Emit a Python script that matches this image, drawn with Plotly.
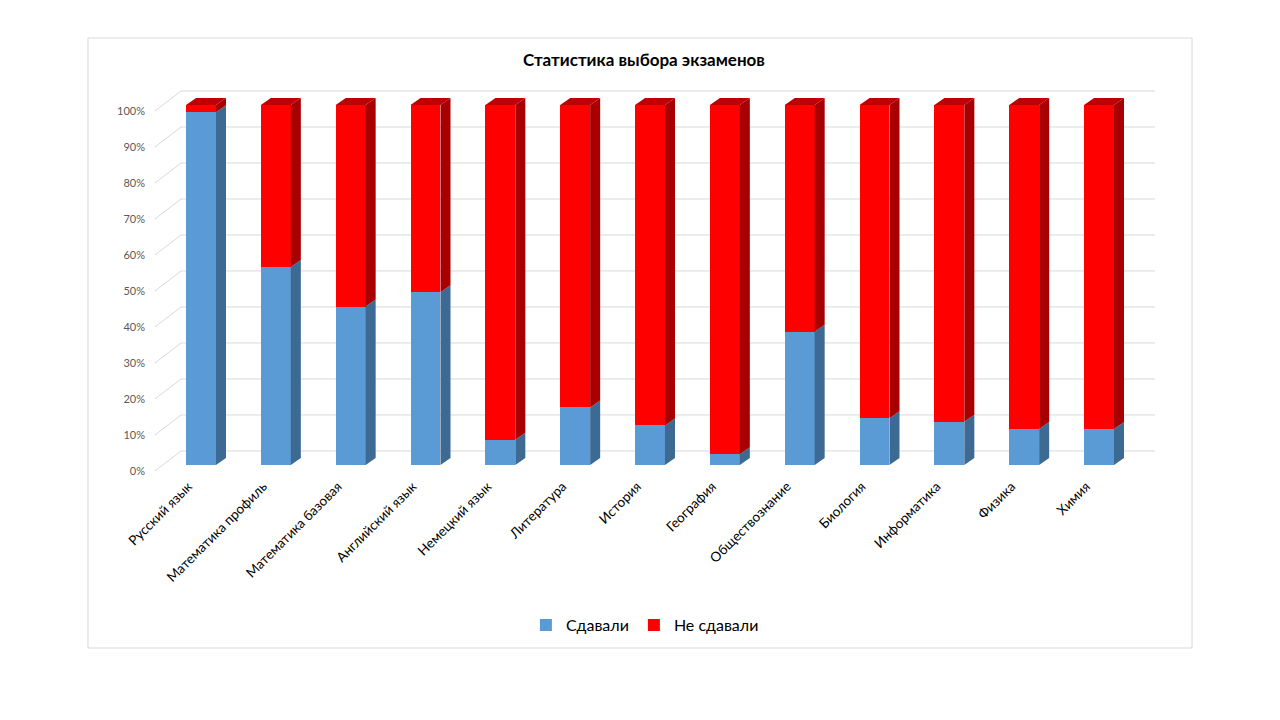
import plotly.graph_objects as go

subjects = ["Русский язык", "Математика профиль", "Математика базовая", "Английский язык",
            "Немецкий язык", "Литература", "История", "География", "Обществознание",
            "Биология", "Информатика", "Физика", "Химия"]
passed = [98, 55, 44, 48, 7, 16, 11, 3, 37, 13, 12, 10, 10]
not_passed = [2, 45, 56, 52, 93, 84, 89, 97, 63, 87, 88, 90, 90]
y_ticks = [0, 10, 20, 30, 40, 50, 60, 70, 80, 90, 100]
y_labels = ["0%", "10%", "20%", "30%", "40%", "50%", "60%", "70%", "80%", "90%", "100%"]

# fake 3D geometry (in axis units)
w = 0.40          # front face width
dx, dy = 0.134, 1.95   # depth offset of side/top faces
wall_dy = 3.9     # back wall gridlines sit above the front face
front_dy = -1.67  # front-left end of the wall lines
wall_left, wall_right, front_left = -0.267, 12.75, -0.615
label_shift = -0.17

BLUE, BLUE_SIDE = "#5B9BD5", "#3D6A93"
RED, RED_SIDE, RED_TOP = "#FF0000", "#A80000", "#C00000"

x = list(range(len(subjects)))
fig = go.Figure()

fig.add_trace(go.Bar(x=x, y=passed, width=w, name="Сдавали",
                     marker=dict(color=BLUE, line=dict(width=0))))
fig.add_trace(go.Bar(x=x, y=not_passed, base=passed, width=w, name="Не сдавали",
                     marker=dict(color=RED, line=dict(width=0))))

def faces(lo, hi):
    xs, ys = [], []
    for i in x:
        r = i + w / 2
        xs += [r, r + dx, r + dx, r, r, None]
        ys += [lo[i], lo[i] + dy, hi[i] + dy, hi[i], lo[i], None]
    return xs, ys

zeros = [0] * len(x)
tops = [p + n for p, n in zip(passed, not_passed)]
bx, by = faces(zeros, passed)
rx, ry = faces(passed, tops)
tx, ty = [], []
for i in x:
    l, r = i - w / 2, i + w / 2
    tx += [l, l + dx, r + dx, r, l, None]
    ty += [tops[i], tops[i] + dy, tops[i] + dy, tops[i], tops[i], None]

for xs, ys, c in [(bx, by, BLUE_SIDE), (rx, ry, RED_SIDE), (tx, ty, RED_TOP)]:
    fig.add_trace(go.Scatter(x=xs, y=ys, mode="lines", fill="toself", fillcolor=c,
                             line=dict(width=0, color=c), showlegend=False,
                             hoverinfo="skip"))

shapes = []
for v in y_ticks:
    shapes.append(dict(type="line", xref="x", yref="y", layer="below",
                       x0=wall_left, x1=wall_right, y0=v + wall_dy, y1=v + wall_dy,
                       line=dict(color="#D9D9D9", width=1)))
    shapes.append(dict(type="line", xref="x", yref="y", layer="below",
                       x0=front_left, x1=wall_left, y0=v + front_dy, y1=v + wall_dy,
                       line=dict(color="#D9D9D9", width=1)))
# chart border
shapes.append(dict(type="rect", xref="paper", yref="paper",
                   x0=-0.0614, x1=1.0317, y0=-0.4436, y1=1.1205,
                   line=dict(color="#D9D9D9", width=1), layer="below"))

# page has an 8px body margin, so the figure is 8px smaller
fig.update_layout(
    width=1272, height=712,
    paper_bgcolor="white", plot_bgcolor="white",
    margin=dict(l=142, r=120, t=77, b=245),
    barmode="stack", bargap=0,
    font=dict(family="Lato, Open Sans, sans-serif", color="#000000"),
    title=dict(text="<b>Статистика выбора экзаменов</b>", x=0.5, xanchor="center",
               y=1 - 52 / 712, yanchor="middle", font=dict(size=17, color="#000000")),
    shapes=shapes,
    showlegend=True,
    legend=dict(orientation="h", x=0.49, xanchor="center", y=-0.385, yanchor="middle",
                traceorder="normal", font=dict(size=16, color="#000000"), itemwidth=30),
    xaxis=dict(range=[-0.6815, 12.815], tickvals=[i + label_shift for i in x],
               ticktext=subjects, tickangle=-45,
               showgrid=False, zeroline=False, showline=False, ticks="",
               tickfont=dict(size=13.5, color="#000000")),
    yaxis=dict(range=[-2.78, 105.56], tickvals=[v + front_dy for v in y_ticks],
               ticktext=y_labels, showgrid=False, zeroline=False, showline=False,
               ticks="", ticklabelstandoff=4, tickfont=dict(size=11, color="#595959")),
)

fig.write_html("out.html")
